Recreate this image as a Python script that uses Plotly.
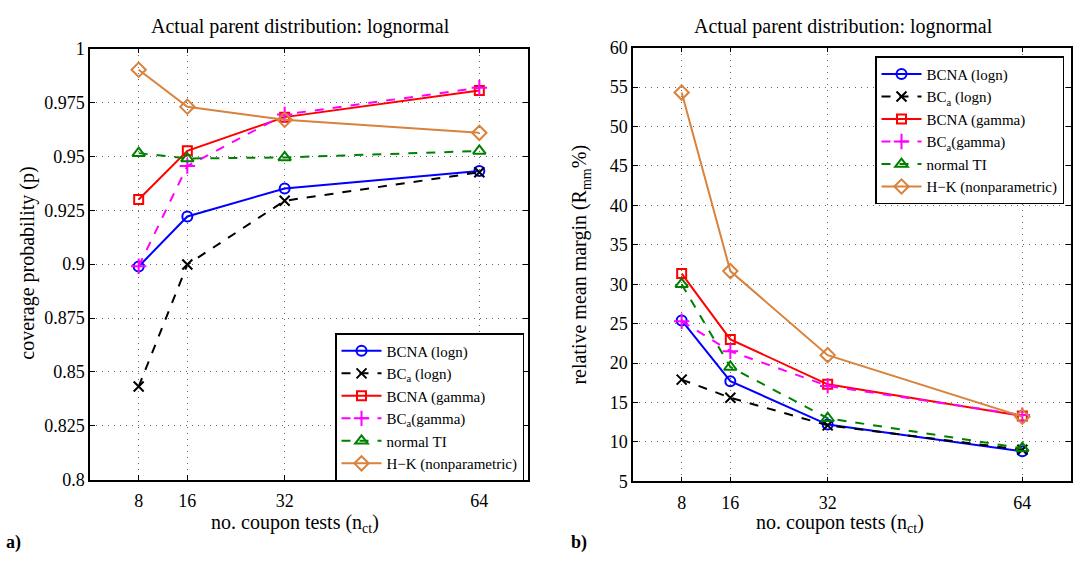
import plotly.graph_objects as go

n_ct = [8, 16, 32, 64]

# coverage probability (panel a)
cov_bcna_logn = [0.8989, 0.9221, 0.9351, 0.9432]
cov_bca_logn = [0.8432, 0.8998, 0.9294, 0.9426]
cov_bcna_gamma = [0.9300, 0.9526, 0.9682, 0.9806]
cov_bca_gamma = [0.8990, 0.9455, 0.9694, 0.9818]
cov_normal_ti = [0.9515, 0.9490, 0.9495, 0.9525]
cov_hk = [0.9902, 0.9730, 0.9670, 0.9609]

# relative mean margin (panel b)
rmm_bcna_logn = [25.4, 17.7, 12.2, 8.8]
rmm_bca_logn = [17.9, 15.6, 12.1, 9.0]
rmm_bcna_gamma = [31.35, 23.0, 17.3, 13.3]
rmm_bca_gamma = [25.3, 21.5, 17.1, 13.4]
rmm_normal_ti = [30.0, 19.5, 13.0, 9.2]
rmm_hk = [54.3, 31.66, 21.0, 13.2]

names = ["BCNA (logn)", "BC<sub>a</sub> (logn)", "BCNA (gamma)",
         "BC<sub>a</sub>(gamma)", "normal TI", "H\u2212K (nonparametric)"]

ORANGE = "rgb(217,130,60)"
styles = [
    dict(color="blue", dash="solid", symbol="circle-open", msize=10),
    dict(color="black", dash="dash", symbol="x-thin-open", msize=10),
    dict(color="red", dash="solid", symbol="square-open", msize=9),
    dict(color="magenta", dash="dash", symbol="cross-thin-open", msize=11),
    dict(color="green", dash="dash", symbol="triangle-up-open", msize=11),
    dict(color=ORANGE, dash="solid", symbol="diamond-open", msize=11),
]

left_series = [cov_bcna_logn, cov_bca_logn, cov_bcna_gamma, cov_bca_gamma, cov_normal_ti, cov_hk]
right_series = [rmm_bcna_logn, rmm_bca_logn, rmm_bcna_gamma, rmm_bca_gamma, rmm_normal_ti, rmm_hk]

FONT = "Liberation Serif, Times New Roman, serif"
fig = go.Figure()

for vals, nm, st in zip(left_series, names, styles):
    fig.add_trace(go.Scatter(
        x=n_ct, y=vals, name=nm, mode="lines+markers",
        line=dict(color=st["color"], dash=st["dash"], width=2),
        marker=dict(symbol=st["symbol"], size=st["msize"], color=st["color"],
                    line=dict(color=st["color"], width=2)),
        xaxis="x", yaxis="y", legend="legend"))

for vals, nm, st in zip(right_series, names, styles):
    fig.add_trace(go.Scatter(
        x=n_ct, y=vals, name=nm, mode="lines+markers",
        line=dict(color=st["color"], dash=st["dash"], width=2),
        marker=dict(symbol=st["symbol"], size=st["msize"], color=st["color"],
                    line=dict(color=st["color"], width=2)),
        xaxis="x2", yaxis="y2", legend="legend2"))

axis_common = dict(
    showline=True, linecolor="black", linewidth=1.5, mirror="allticks",
    ticks="inside", ticklen=5, tickcolor="black",
    showgrid=True, gridcolor="rgba(0,0,0,0.6)", griddash="1px,5px", gridwidth=1,
    zeroline=False, tickfont=dict(family=FONT, size=18, color="black"),
)

xticks = [8, 16, 32, 64]
TF = dict(family=FONT, size=20, color="black")

def ann(text, x, y, **kw):
    d = dict(text=text, x=x / 1074, y=(563 - y) / 563, xref="paper", yref="paper",
             showarrow=False, font=TF, xanchor="center", yanchor="middle")
    d.update(kw)
    return d

fig.update_layout(
    width=1074, height=563,
    margin=dict(l=0, r=0, t=0, b=0),
    paper_bgcolor="white", plot_bgcolor="white",
    font=dict(family=FONT, color="black"),
    xaxis=dict(domain=[90 / 1074, 528 / 1074], range=[0, 72], tickvals=xticks,
               anchor="y", ticklabelstandoff=4, **axis_common),
    yaxis=dict(domain=[(563 - 487) / 563, (563 - 40) / 563], range=[0.8, 1.0],
               tickvals=[0.8, 0.825, 0.85, 0.875, 0.9, 0.925, 0.95, 0.975, 1.0],
               ticktext=["0.8", "0.825", "0.85", "0.875", "0.9", "0.925", "0.95", "0.975", "1"],
               anchor="x", **axis_common),
    xaxis2=dict(domain=[633 / 1074, 1071 / 1074], range=[0, 72], tickvals=xticks,
                anchor="y2", ticklabelstandoff=4, **axis_common),
    yaxis2=dict(domain=[(563 - 488.7) / 563, (563 - 39) / 563], range=[5, 60],
                tickvals=list(range(5, 61, 5)),
                anchor="x2", **axis_common),
    legend=dict(x=524 / 1074, y=(563 - 335) / 563, xanchor="right", yanchor="top",
                bgcolor="white", bordercolor="black", borderwidth=1.5,
                font=dict(family=FONT, size=15, color="black"), itemwidth=40),
    legend2=dict(x=1064 / 1074, y=(563 - 48) / 563, xanchor="right", yanchor="top",
                 bgcolor="white", bordercolor="black", borderwidth=1.5,
                 font=dict(family=FONT, size=15, color="black"), itemwidth=40),
    showlegend=True,
    annotations=[
        ann("Actual parent distribution: lognormal", 300, 17),
        ann("Actual parent distribution: lognormal", 843, 17),
        ann("no. coupon tests (n<sub>ct</sub>)", 295, 532),
        ann("no. coupon tests (n<sub>ct</sub>)", 840, 532),
        ann("coverage probability (p)", 28, 263, textangle=-90),
        ann("relative mean margin (R<sub>mm</sub>%)", 581, 264, textangle=-90),
        ann("<b>a)</b>", 4, 552, xanchor="left", font=dict(family=FONT, size=18)),
        ann("<b>b)</b>", 569, 552, xanchor="left", font=dict(family=FONT, size=18)),
    ],
)

fig.write_html("out.html")
